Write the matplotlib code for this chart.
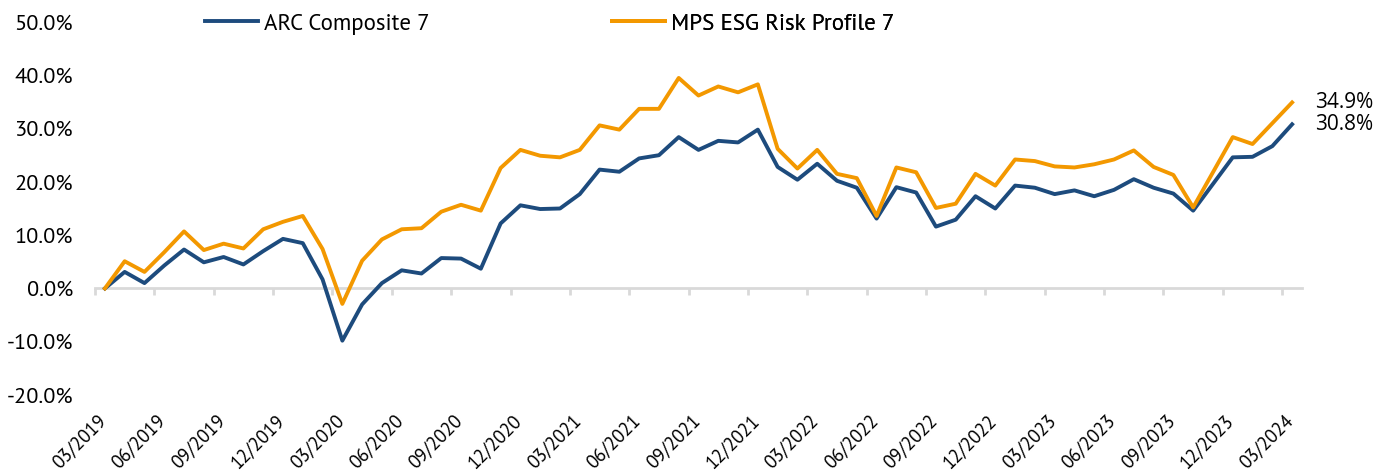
import matplotlib
matplotlib.use("Agg")
import matplotlib.pyplot as plt
import matplotlib.transforms as mtransforms
from matplotlib.lines import Line2D
import numpy as np

# monthly cumulative returns (%), 03/2019 .. 03/2024
arc = [0.0, 3.1, 1.0, 4.3, 7.3, 4.9, 5.9, 4.5, 7.0, 9.3, 8.5, 1.7, -9.8, -3.0, 1.0,
       3.4, 2.8, 5.7, 5.6, 3.7, 12.2, 15.6, 14.9, 15.0, 17.7, 22.3, 21.9, 24.4, 25.0,
       28.4, 26.0, 27.7, 27.4, 29.8, 22.8, 20.4, 23.4, 20.2, 18.9, 13.1, 19.0, 18.0,
       11.6, 12.9, 17.3, 15.0, 19.3, 18.9, 17.7, 18.4, 17.3, 18.5, 20.5, 18.9, 17.8,
       14.6, 19.6, 24.6, 24.7, 26.7, 30.8]
mps = [0.0, 5.1, 3.1, 6.8, 10.7, 7.2, 8.4, 7.5, 11.1, 12.5, 13.6, 7.4, -2.9, 5.2, 9.2,
       11.1, 11.3, 14.4, 15.7, 14.6, 22.6, 26.0, 24.9, 24.6, 26.0, 30.6, 29.8, 33.7, 33.7,
       39.5, 36.2, 37.9, 36.8, 38.3, 26.2, 22.5, 26.0, 21.5, 20.7, 13.6, 22.7, 21.8,
       15.1, 15.9, 21.5, 19.3, 24.2, 23.9, 22.9, 22.7, 23.3, 24.2, 25.9, 22.8, 21.3,
       15.2, 21.8, 28.4, 27.1, 31.0, 34.9]
tick_labels = ["03/2019", "06/2019", "09/2019", "12/2019", "03/2020", "06/2020",
               "09/2020", "12/2020", "03/2021", "06/2021", "09/2021", "12/2021",
               "03/2022", "06/2022", "09/2022", "12/2022", "03/2023", "06/2023",
               "09/2023", "12/2023", "03/2024"]
series_names = ["ARC Composite 7", "MPS ESG Risk Profile 7"]
colors = ["#1d4b7d", "#f39800"]

plt.rcParams['font.family'] = ['PT Sans', 'Lato', 'DejaVu Sans']

W, H = 1391, 473
fig = plt.figure(figsize=(W / 100, H / 100), dpi=100)
ax = fig.add_axes([95 / W, 1 - 395 / H, (1302 - 95) / W, (395 - 22) / H])

x = np.arange(len(arc))
ax.plot(x, arc, color=colors[0], lw=2.8, zorder=3)
ax.plot(x, mps, color=colors[1], lw=2.8, zorder=3)

ax.set_xlim(-0.5, len(arc) - 0.5)
ax.set_ylim(-20, 50)

for s in ax.spines.values():
    s.set_visible(False)
ax.spines['bottom'].set_visible(True)
ax.spines['bottom'].set_position(('data', 0))
ax.spines['bottom'].set_color('#d9d9d9')
ax.spines['bottom'].set_linewidth(2)

# tick marks between categories, every 3 months
ax.set_xticks(np.arange(-0.5, len(arc), 3))
ax.tick_params(axis='x', length=5, width=2, color='#d9d9d9', labelbottom=False)

yt = np.arange(-20, 51, 10)
ax.set_yticks(yt)
ax.set_yticklabels([f"{v:.1f}%" for v in yt])
ax.tick_params(axis='y', length=0, pad=16, labelsize=16)

# date labels at the bottom
sec = ax.secondary_xaxis(0.0)
sec.spines['bottom'].set_visible(False)
sec.set_xticks(x[::3])
sec.set_xticklabels(tick_labels, rotation=45, ha='right', fontsize=13.5)
sec.tick_params(length=0, pad=12)
offset = mtransforms.ScaledTranslation(5 / 100, 0, fig.dpi_scale_trans)
for lab in sec.get_xticklabels():
    lab.set_transform(lab.get_transform() + offset)

# end values
for vals in (mps, arc):
    ax.annotate(f"{vals[-1]:.1f}%", xy=(x[-1], vals[-1]), xytext=(16.5, 0),
                textcoords='offset points', va='center', ha='left',
                fontsize=15, family=['Open Sans', 'DejaVu Sans'], color='black')

# legend: two entries placed separately
for name, c, x0 in [(series_names[0], colors[0], 205), (series_names[1], colors[1], 612)]:
    h = Line2D([], [], color=c, lw=2.8)
    leg = ax.legend([h], [name], loc='center left', bbox_to_anchor=(x0 / W, 1 - 24 / H),
                    bbox_transform=fig.transFigure, frameon=False, borderpad=0,
                    borderaxespad=0, handlelength=2.3, handletextpad=0.28, fontsize=16.5)
    ax.add_artist(leg)

fig.savefig("out.png", dpi=100)
